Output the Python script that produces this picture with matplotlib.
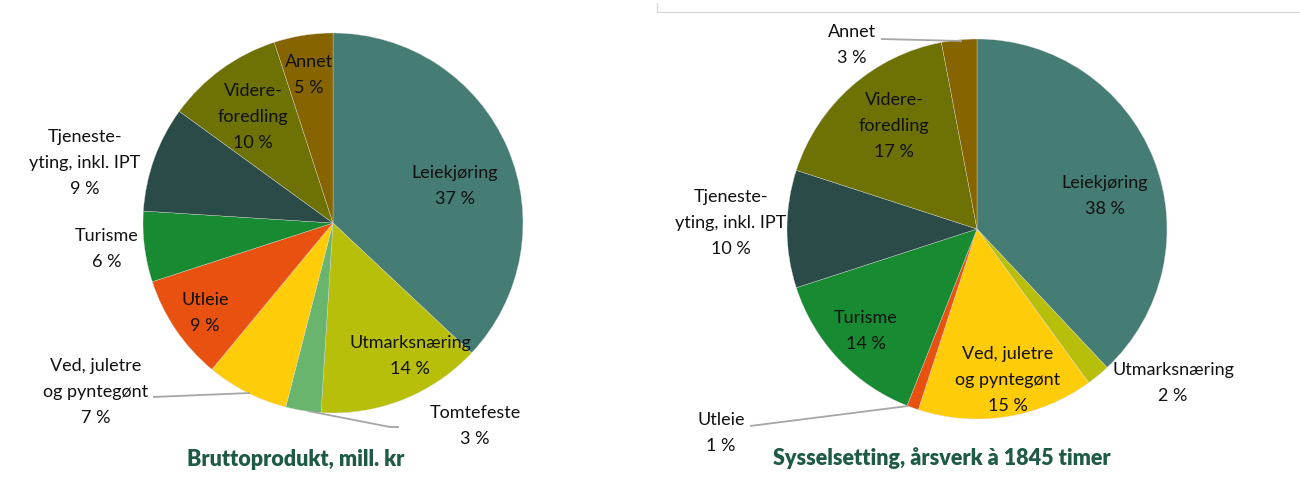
import matplotlib.pyplot as plt

plt.rcParams['font.family'] = ['Lato', 'DejaVu Sans']

W, H = 1300, 479

# Bruttoprodukt (venstre)
brutto_navn = ['Leiekjøring', 'Utmarksnæring', 'Tomtefeste', 'Ved, juletre\nog pyntegønt',
               'Utleie', 'Turisme', 'Tjeneste-\nyting, inkl. IPT', 'Videre-\nforedling', 'Annet']
brutto_pst = [37, 14, 3, 7, 9, 6, 9, 10, 5]
brutto_farge = ['#457c73', '#b8bf0a', '#69b56e', '#ffcc0a', '#e8510f',
                '#178a32', '#2a4b48', '#6e7103', '#866400']

# Sysselsetting (høyre)
syss_navn = ['Leiekjøring', 'Utmarksnæring', 'Ved, juletre\nog pyntegønt', 'Utleie',
             'Turisme', 'Tjeneste-\nyting, inkl. IPT', 'Videre-\nforedling', 'Annet']
syss_pst = [38, 2, 15, 1, 14, 10, 17, 3]
syss_farge = ['#457c73', '#b8bf0a', '#ffcc0a', '#e8510f',
              '#178a32', '#2a4b48', '#6e7103', '#866400']

# label-plassering i piksler (x, y fra toppen)
brutto_pos = [(455, 186), (410, 356), (475, 426), (96, 392), (205, 313),
              (107, 249), (85, 163), (253, 117), (309, 75)]
syss_pos = [(1105, 196), (1173, 383), (1008, 380), (721, 433),
            (866, 331), (731, 223), (894, 126), (852, 45)]

# ledelinjer
brutto_linjer = {2: [(308, 411), (390, 427), (399, 427)],
                 3: [(153, 397), (250, 393)]}
syss_linjer = {3: [(750, 426), (908, 406)],
               7: [(881, 39), (962, 41)]}

fig = plt.figure(figsize=(W / 100, H / 100), dpi=100)
ax = fig.add_axes([0, 0, 1, 1])


def kake(navn, pst, farger, senter, pos, linjer, tittel, tittel_pos):
    ax.pie(pst, colors=farger, startangle=90, counterclock=False,
           center=(senter[0], H - senter[1]), radius=190,
           wedgeprops=dict(edgecolor='#dcdcdc', linewidth=0.25))
    for i, (n, p) in enumerate(zip(navn, pst)):
        x, y = pos[i]
        ax.text(x, H - y, f'{n}\n{p} %', ha='center', va='center',
                fontsize=13, color='#111111', linespacing=1.75)
    for pts in linjer.values():
        ax.plot([p[0] for p in pts], [H - p[1] for p in pts],
                color='#a6a6a6', lw=1.3, solid_capstyle='butt')
    ax.text(tittel_pos[0], H - tittel_pos[1], tittel, ha='center', va='center',
            fontsize=15.5, fontweight='heavy', color='#1e5a46')


kake(brutto_navn, brutto_pst, brutto_farge, (333, 223), brutto_pos, brutto_linjer,
     'Bruttoprodukt, mill. kr', (296, 459))
kake(syss_navn, syss_pst, syss_farge, (977, 229), syss_pos, syss_linjer,
     'Sysselsetting, årsverk à 1845 timer', (942, 458))

# tynn ramme øverst til høyre
ax.plot([657, 657, W], [H - 3, H - 12, H - 12], color='#d9d9d9', lw=1)

ax.set_xlim(0, W)
ax.set_ylim(0, H)
ax.set_aspect('equal')
ax.axis('off')

fig.savefig('out.png', dpi=100, facecolor='white')
